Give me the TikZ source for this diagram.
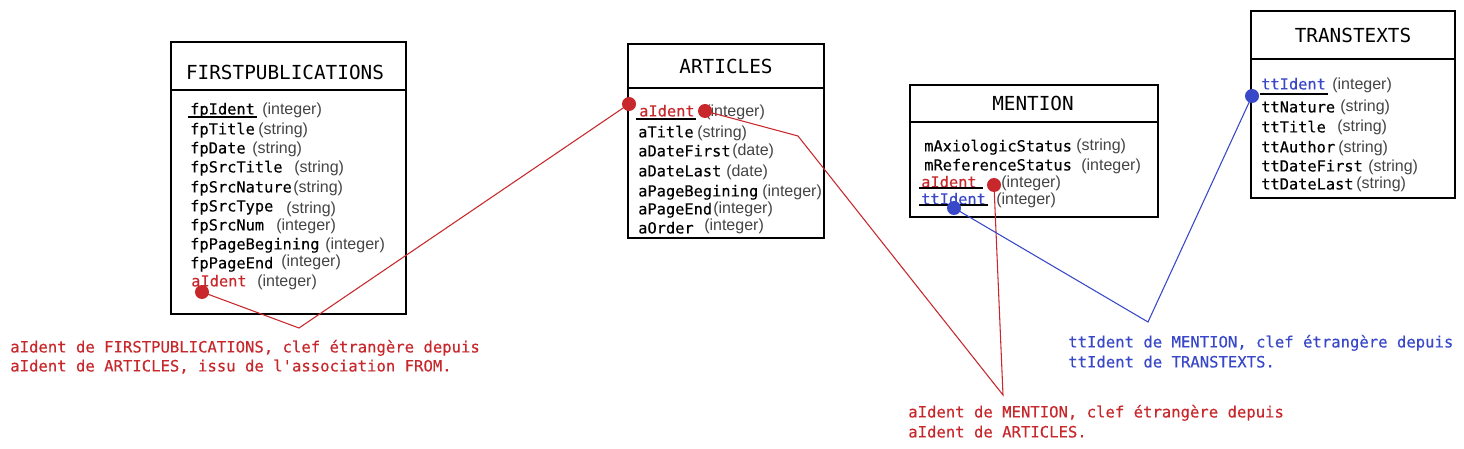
\documentclass[tikz,border=0pt]{standalone}
\usepackage{fontspec}
\setmainfont{Liberation Sans}
\newfontface\monof[FakeBold=0.25]{DejaVu Sans Mono}
\newfontface\titlef{DejaVu Sans Mono}
\definecolor{fkred}{HTML}{C8282C}
\definecolor{fkblue}{HTML}{3848C8}
\definecolor{typegray}{HTML}{444444}
\tikzset{
  tblbox/.style={draw=black, line width=1.5pt, inner sep=0pt, anchor=north west},
  sepline/.style={line width=0.9pt},
  tbltitle/.style={font=\titlef\fontsize{14.5}{16}\selectfont, inner sep=0pt},
  fld/.style={font=\monof\fontsize{11.5}{13}\selectfont, inner sep=0pt, anchor=mid west, yshift=-2.2pt},
  typ/.style={font=\fontsize{12}{14}\selectfont, text=typegray, inner sep=0pt, anchor=mid west, yshift=-2.2pt},
  uline/.style={line width=0.9pt},
  dotr/.style={circle, fill=fkred, minimum size=10.5pt, inner sep=0pt},
  dotb/.style={circle, fill=fkblue, minimum size=10.5pt, inner sep=0pt},
  note/.style={font=\monof\fontsize{11.7}{14}\selectfont, inner sep=0pt, anchor=mid west, yshift=-2.2pt},
  link/.style={line width=0.8pt}
}
\begin{document}
\begin{tikzpicture}[x=0.75pt,y=-0.75pt]
\useasboundingbox[fill=white] (0,0) rectangle (1464,449);

% ---------- FIRSTPUBLICATIONS ----------
\node[tblbox, minimum width={235*0.75pt}, minimum height={272*0.75pt}] (fp) at (170,41) {};
\draw[sepline] (170,90) -- (405,90);
\node[tbltitle] (fpt) at (285,72) {FIRSTPUBLICATIONS};
\node[fld] (fp1) at (190,108) {fpIdent};        \node[typ] (fp1t) at (262,108) {(integer)};
\node[fld] (fp2) at (190,128) {fpTitle};        \node[typ] (fp2t) at (258,128) {(string)};
\node[fld] (fp3) at (190,147) {fpDate};         \node[typ] (fp3t) at (252,147) {(string)};
\node[fld] (fp4) at (190,166) {fpSrcTitle};     \node[typ] (fp4t) at (294,166) {(string)};
\node[fld] (fp5) at (190,186) {fpSrcNature};    \node[typ] (fp5t) at (293,186) {(string)};
\node[fld] (fp6) at (190,205) {fpSrcType};      \node[typ] (fp6t) at (286,207) {(string)};
\node[fld] (fp7) at (190,224) {fpSrcNum};       \node[typ] (fp7t) at (276,224) {(integer)};
\node[fld] (fp8) at (190,243) {fpPageBegining}; \node[typ] (fp8t) at (325,243) {(integer)};
\node[fld] (fp9) at (190,262) {fpPageEnd};      \node[typ] (fp9t) at (281,260) {(integer)};
\node[fld, text=fkred] (fp10) at (191,280) {aIdent}; \node[typ] (fp10t) at (257,280) {(integer)};
\draw[uline] (188,117) -- (257,117);

% ---------- ARTICLES ----------
\node[tblbox, minimum width={196*0.75pt}, minimum height={194*0.75pt}] (ar) at (627,43) {};
\draw[sepline] (627,88) -- (823,88);
\node[tbltitle] (art) at (726,66) {ARTICLES};
\node[fld, text=fkred] (ar1) at (639,110) {aIdent}; \node[typ] (ar1t) at (705,110) {(integer)};
\node[fld] (ar2) at (638,131) {aTitle};        \node[typ] (ar2t) at (697,131) {(string)};
\node[fld] (ar3) at (638,150) {aDateFirst};    \node[typ] (ar3t) at (732,149) {(date)};
\node[fld] (ar4) at (638,170) {aDateLast};     \node[typ] (ar4t) at (726,170) {(date)};
\node[fld] (ar5) at (638,190) {aPageBegining}; \node[typ] (ar5t) at (762,190) {(integer)};
\node[fld] (ar6) at (638,208) {aPageEnd};      \node[typ] (ar6t) at (713,207) {(integer)};
\node[fld] (ar7) at (638,227) {aOrder};        \node[typ] (ar7t) at (704,224) {(integer)};
\draw[uline] (636,119) -- (696,119);

% ---------- MENTION ----------
\node[tblbox, minimum width={248*0.75pt}, minimum height={132*0.75pt}] (me) at (909,84) {};
\draw[sepline] (909,122) -- (1157,122);
\node[tbltitle] (met) at (1033,103) {MENTION};
\node[fld] (me1) at (924,145) {mAxiologicStatus}; \node[typ] (me1t) at (1076,144) {(string)};
\node[fld] (me2) at (924,164) {mReferenceStatus}; \node[typ] (me2t) at (1081,164) {(integer)};
\node[fld, text=fkred] (me3) at (921,181) {aIdent};   \node[typ] (me3t) at (1001,181) {(integer)};
\node[fld, text=fkblue] (me4) at (921,198) {ttIdent}; \node[typ] (me4t) at (996,198) {(integer)};
\draw[uline] (919,188) -- (983,188);
\draw[uline] (919,205) -- (988,205);

% ---------- TRANSTEXTS ----------
\node[tblbox, minimum width={204*0.75pt}, minimum height={187*0.75pt}] (tt) at (1250,10) {};
\draw[sepline] (1250,59) -- (1454,59);
\node[tbltitle] (ttt) at (1353,35) {TRANSTEXTS};
\node[fld, text=fkblue] (tt1) at (1261,83) {ttIdent}; \node[typ] (tt1t) at (1332,83) {(integer)};
\node[fld] (tt2) at (1261,106) {ttNature};    \node[typ] (tt2t) at (1340,105) {(string)};
\node[fld] (tt3) at (1261,126) {ttTitle};     \node[typ] (tt3t) at (1337,125) {(string)};
\node[fld] (tt4) at (1261,146) {ttAuthor};    \node[typ] (tt4t) at (1338,146) {(string)};
\node[fld] (tt5) at (1261,165) {ttDateFirst}; \node[typ] (tt5t) at (1368,165) {(string)};
\node[fld] (tt6) at (1261,183) {ttDateLast};  \node[typ] (tt6t) at (1356,182) {(string)};
\draw[uline] (1260,94) -- (1328,94);

% ---------- connectors ----------
\coordinate (d1) at (202,292);
\coordinate (d2) at (629,104);
\coordinate (d3) at (705,111);
\coordinate (d4) at (994,185);
\coordinate (d5) at (954,208);
\coordinate (d6) at (1252,96);
\coordinate (k1) at (299,328);
\coordinate (k2a) at (798,136);
\coordinate (k2) at (1003,395);
\coordinate (k3) at (1148,322);

\draw[link, fkred] (d1) -- (k1) -- (d2);
\draw[link, fkred] (d3) -- (k2a) -- (k2) -- (d4);
\draw[link, fkblue] (d5) -- (k3) -- (d6);

\node[dotr] (n1) at (d1) {};
\node[dotr] (n2) at (d2) {};
\node[dotr] (n3) at (d3) {};
\node[dotr] (n4) at (d4) {};
\node[dotb] (n5) at (d5) {};
\node[dotb] (n6) at (d6) {};

% ---------- notes ----------
\node[note, text=fkred] (nt1a) at (10,346) {aIdent de FIRSTPUBLICATIONS, clef étrangère depuis};
\node[note, text=fkred] (nt1b) at (10,365) {aIdent de ARTICLES, issu de l'association FROM.};
\node[note, text=fkred] (nt2a) at (908,411) {aIdent de MENTION, clef étrangère depuis};
\node[note, text=fkred] (nt2b) at (908,431) {aIdent de ARTICLES.};
\node[note, text=fkblue] (nt3a) at (1068,341) {ttIdent de MENTION, clef étrangère depuis};
\node[note, text=fkblue] (nt3b) at (1068,361) {ttIdent de TRANSTEXTS.};
\end{tikzpicture}
\end{document}
